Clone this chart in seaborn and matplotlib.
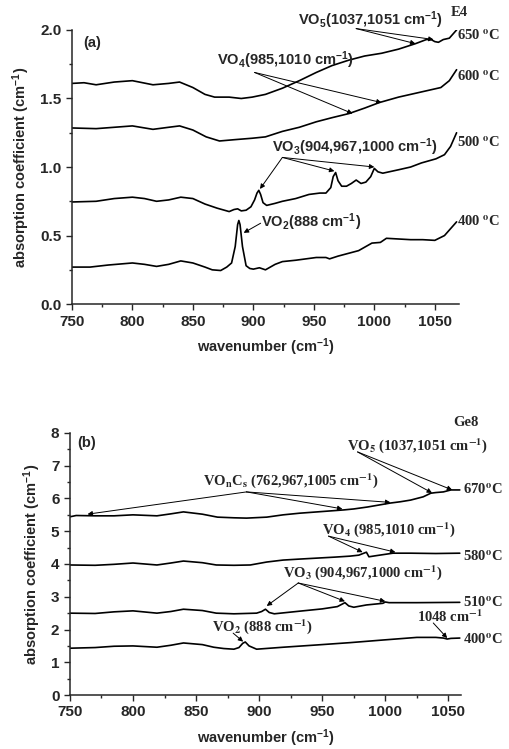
import matplotlib
matplotlib.use("Agg")
import numpy as np
import pandas as pd
import matplotlib.pyplot as plt
import seaborn as sns

# ---- panel (a): sample E4 ----
a400_x = [750, 765, 780, 800, 810, 820, 830, 840, 850, 860, 866, 873, 878, 882, 885, 887, 888, 889, 891,
          894, 897, 900, 905, 910, 918, 924, 935, 952, 960, 963, 970, 987, 998, 1005, 1010, 1020, 1030,
          1040, 1050, 1058, 1063, 1068]
a400_y = [0.27, 0.27, 0.285, 0.30, 0.29, 0.275, 0.29, 0.315, 0.30, 0.27, 0.25, 0.245, 0.27, 0.30, 0.42,
          0.58, 0.61, 0.58, 0.42, 0.28, 0.26, 0.255, 0.265, 0.25, 0.29, 0.31, 0.32, 0.34, 0.34, 0.33, 0.35,
          0.39, 0.445, 0.45, 0.48, 0.475, 0.47, 0.47, 0.465, 0.50, 0.55, 0.60]

a500_x = [750, 770, 785, 800, 810, 820, 830, 840, 850, 860, 870, 880, 884, 887, 890, 894, 898, 901, 903,
          904.5, 906, 908, 911, 918, 924, 935, 946, 955, 960, 964, 966, 968, 970, 973, 977, 981, 985, 989,
          993, 997, 1000, 1003, 1007, 1020, 1030, 1039, 1051, 1058, 1063, 1068]
a500_y = [0.745, 0.75, 0.77, 0.78, 0.77, 0.75, 0.76, 0.78, 0.77, 0.73, 0.70, 0.675, 0.69, 0.695, 0.68,
          0.685, 0.71, 0.76, 0.81, 0.83, 0.80, 0.74, 0.72, 0.735, 0.75, 0.77, 0.80, 0.81, 0.81, 0.85, 0.93,
          0.96, 0.90, 0.86, 0.86, 0.88, 0.905, 0.88, 0.89, 0.93, 0.99, 0.965, 0.955, 0.98, 1.00, 1.03, 1.06,
          1.09, 1.15, 1.25]

a600_x = [750, 770, 785, 800, 817, 830, 839, 850, 861, 872, 885, 899, 910, 924, 938, 952, 965, 979, 992,
          1004, 1020, 1035, 1045, 1055, 1062, 1068]
a600_y = [1.285, 1.28, 1.29, 1.30, 1.275, 1.29, 1.30, 1.27, 1.22, 1.19, 1.20, 1.21, 1.22, 1.26, 1.29,
          1.33, 1.36, 1.39, 1.43, 1.47, 1.51, 1.54, 1.56, 1.58, 1.63, 1.71]

a650_x = [750, 760, 770, 785, 800, 817, 830, 839, 850, 860, 868, 880, 890, 899, 910, 924, 938, 952, 965,
          979, 992, 1006, 1020, 1034, 1043, 1047, 1050, 1053, 1057, 1062, 1068]
a650_y = [1.61, 1.615, 1.60, 1.62, 1.63, 1.60, 1.61, 1.62, 1.58, 1.53, 1.51, 1.51, 1.50, 1.51, 1.53,
          1.575, 1.63, 1.69, 1.74, 1.78, 1.81, 1.83, 1.86, 1.90, 1.93, 1.93, 1.915, 1.91, 1.93, 1.94, 2.0]

# ---- panel (b): sample Ge8 ----
b400_x = [750, 770, 785, 800, 819, 830, 840, 855, 864, 872, 880, 884, 887, 889, 892, 898, 905, 919, 946,
          972, 998, 1025, 1040, 1046, 1049, 1052, 1059]
b400_y = [1.43, 1.45, 1.49, 1.50, 1.46, 1.52, 1.59, 1.54, 1.46, 1.42, 1.40, 1.45, 1.58, 1.62, 1.50, 1.40,
          1.42, 1.46, 1.53, 1.60, 1.68, 1.76, 1.76, 1.74, 1.71, 1.73, 1.74]

b510_x = [750, 770, 785, 800, 819, 830, 840, 855, 866, 880, 898, 902, 905, 908, 912, 932, 950, 962, 966,
          968, 971, 975, 985, 998, 1000, 1003, 1025, 1059]
b510_y = [2.50, 2.49, 2.54, 2.57, 2.50, 2.55, 2.62, 2.58, 2.50, 2.48, 2.50, 2.55, 2.62, 2.52, 2.48, 2.56,
          2.63, 2.70, 2.78, 2.82, 2.72, 2.68, 2.75, 2.80, 2.84, 2.82, 2.82, 2.83]

b580_x = [750, 770, 785, 800, 819, 830, 840, 855, 866, 880, 893, 906, 919, 932, 946, 960, 972, 979, 983,
          985, 987, 992, 1006, 1020, 1040, 1059]
b580_y = [3.97, 3.96, 3.99, 4.03, 3.97, 4.03, 4.09, 4.04, 3.97, 3.96, 3.97, 4.06, 4.12, 4.15, 4.18, 4.21,
          4.24, 4.27, 4.33, 4.36, 4.22, 4.25, 4.33, 4.33, 4.32, 4.33]

b670_x = [750, 755, 770, 785, 800, 819, 830, 840, 855, 867, 880, 890, 906, 919, 932, 946, 960, 967, 975,
          986, 995, 1004, 1012, 1020, 1030, 1036, 1040, 1046, 1052, 1059]
b670_y = [5.44, 5.48, 5.47, 5.47, 5.50, 5.47, 5.53, 5.59, 5.52, 5.43, 5.41, 5.40, 5.43, 5.50, 5.55, 5.59,
          5.63, 5.65, 5.68, 5.74, 5.80, 5.86, 5.90, 5.95, 6.05, 6.16, 6.18, 6.20, 6.26, 6.26]

a_temps = ["400", "500", "600", "650"]
b_temps = ["400", "510", "580", "670"]


def long_df(xs, ys, temps):
    parts = []
    for x, y, t in zip(xs, ys, temps):
        parts.append(pd.DataFrame({"wavenumber": x, "absorption": y, "T": t}))
    return pd.concat(parts, ignore_index=True)


df_a = long_df([a400_x, a500_x, a600_x, a650_x], [a400_y, a500_y, a600_y, a650_y], a_temps)
df_b = long_df([b400_x, b510_x, b580_x, b670_x], [b400_y, b510_y, b580_y, b670_y], b_temps)

sns.set_style("ticks")
plt.rcParams["font.family"] = ["Liberation Sans", "DejaVu Sans"]
plt.rcParams["font.weight"] = "bold"
plt.rcParams["axes.labelweight"] = "bold"
plt.rcParams["mathtext.fontset"] = "custom"
plt.rcParams["mathtext.bf"] = "Liberation Sans:bold"
plt.rcParams["mathtext.rm"] = "Liberation Sans:bold"
plt.rcParams["mathtext.it"] = "Liberation Sans:bold"
plt.rcParams["mathtext.default"] = "bf"

fig = plt.figure(figsize=(5.1, 7.49), dpi=100)
ax1 = fig.add_axes([0.141, 0.594, 0.759, 0.366])
ax2 = fig.add_axes([0.137, 0.072, 0.767, 0.350])

for ax, df in [(ax1, df_a), (ax2, df_b)]:
    sns.lineplot(data=df, x="wavenumber", y="absorption", units="T", estimator=None,
                 sort=False, color="black", lw=1.2, legend=False, ax=ax)
    sns.despine(ax=ax)
    ax.set_xticks(np.arange(750, 1051, 50))
    ax.set_xticks(np.arange(775, 1070, 50), minor=True)
    ax.tick_params(which="major", length=4, width=1, labelsize=11, direction="out")
    ax.tick_params(which="minor", length=2.5, width=1, direction="out")
    for lab in ax.get_xticklabels() + ax.get_yticklabels():
        lab.set_fontweight("bold")
    ax.set_xlabel("wavenumber (cm$^{-1}$)", fontsize=10.5, labelpad=6)
    ax.set_ylabel("absorption coefficient (cm$^{-1}$)", fontsize=10.5, labelpad=6)
    for s in ax.spines.values():
        s.set_linewidth(1.1)

ax1.set_xlim(750, 1070)
ax1.set_ylim(0, 2.0)
ax1.set_yticks(np.arange(0, 2.01, 0.5))
ax1.set_yticks(np.arange(0.25, 2.0, 0.5), minor=True)
ax1.set_yticklabels(["0.0", "0.5", "1.0", "1.5", "2.0"])

ax2.set_xlim(750, 1060)
ax2.set_ylim(0, 8)
ax2.set_yticks(np.arange(0, 9, 1))
ax2.set_yticks(np.arange(0.5, 8, 1), minor=True)

arr = dict(arrowstyle="-|>", color="black", lw=0.7, mutation_scale=7, shrinkA=0, shrinkB=0)
sans = dict(fontsize=10.5, fontweight="bold", va="center", ha="left")
serif = dict(fontsize=10.5, fontweight="bold", va="center", ha="left",
             family=["Liberation Serif", "DejaVu Serif"], math_fontfamily="stix")


def arrows(ax, start, ends):
    for e in ends:
        ax.annotate("", xy=e, xytext=start, arrowprops=arr, annotation_clip=False)


# panel (a) labels
ax1.text(759, 1.905, "(a)", **sans)
ax1.text(937, 2.07, "VO$_5$(1037,1051 cm$^{-1}$)", clip_on=False, **sans)
arrows(ax1, (985, 2.01), [(1034, 1.90), (1049, 1.93)])
ax1.text(870, 1.78, "VO$_4$(985,1010 cm$^{-1}$)", **sans)
arrows(ax1, (901, 1.69), [(1006, 1.47), (982, 1.39)])
ax1.text(915.5, 1.146, "VO$_3$(904,967,1000 cm$^{-1}$)", **sans)
arrows(ax1, (924, 1.07), [(905.5, 0.84), (967, 0.97), (1000, 1.0)])
ax1.text(906.5, 0.60, "VO$_2$(888 cm$^{-1}$)", **sans)
arrows(ax1, (906, 0.59), [(892, 0.52)])
ax1.text(1063, 2.125, "E4", clip_on=False, **serif)
for lab, yy in zip(["650", "600", "500", "400"], [1.96, 1.657, 1.18, 0.60]):
    ax1.text(1068.5, yy, lab + " $^{o}$C", clip_on=False, **serif)

# panel (b) labels
ax2.text(755.6, 7.69, "(b)", **sans)
ax2.text(1063.5, 8.31, "Ge8", clip_on=False, **dict(serif, ha="center"))
ax2.text(969.8, 7.63, "VO$_5$ (1037,1051 cm$^{-1}$)", clip_on=False, **serif)
arrows(ax2, (978, 7.42), [(1037, 6.17), (1053, 6.26)])
ax2.text(855.6, 6.56, "VO$_n$C$_s$ (762,967,1005 cm$^{-1}$)", **serif)
arrows(ax2, (890, 6.2), [(764, 5.52), (966, 5.68), (1004, 5.88)])
ax2.text(950, 5.04, "VO$_4$ (985,1010 cm$^{-1}$)", **serif)
arrows(ax2, (955, 4.85), [(982, 4.36), (1008, 4.36)])
ax2.text(919, 3.73, "VO$_3$ (904,967,1000 cm$^{-1}$)", **serif)
arrows(ax2, (931, 3.42), [(906, 2.72), (968, 2.86), (1000, 2.86)])
ax2.text(862.7, 2.08, "VO$_2$ (888 cm$^{-1}$)", **serif)
arrows(ax2, (879.4, 1.89), [(887.3, 1.63)])
ax2.text(1025.4, 2.38, "1048 cm$^{-1}$", clip_on=False, **serif)
arrows(ax2, (1038, 2.2), [(1049, 1.74)])
for lab, yy in zip(["670", "580", "510", "400"], [6.26, 4.24, 2.81, 1.68]):
    ax2.text(1061.5, yy, lab + "$^{o}$C", clip_on=False, **serif)

fig.savefig("out.png", dpi=100)
